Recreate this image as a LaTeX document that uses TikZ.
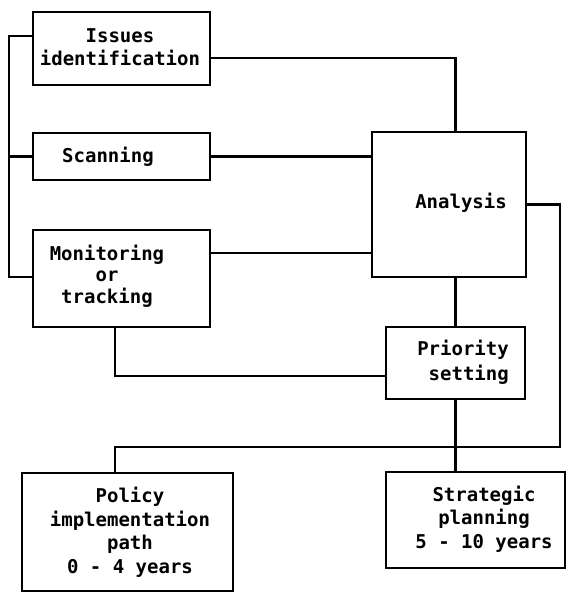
\documentclass[tikz,border=0pt]{standalone}
\usepackage{fontspec}
\newfontfamily\plotfont{DejaVu Sans Mono}
\begin{document}
\begin{tikzpicture}[x=1pt,y=-1pt,
  box/.style={draw,line width=2.4pt,inner sep=0pt,minimum width=#1},
  wire/.style={line width=2.2pt},
  lbl/.style={inner sep=0pt,align=center,font=\plotfont\bfseries\fontsize{19}{23.5}\selectfont}]
\useasboundingbox (0,0) rectangle (568,593);
% boxes
\node[box=177pt,minimum height=73pt] (issues) at (121.5,48.5) {};
\node[box=177pt,minimum height=47pt] (scanning) at (121.5,156.5) {};
\node[box=177pt,minimum height=97pt] (monitoring) at (121.5,278.5) {};
\node[box=154pt,minimum height=145pt] (analysis) at (449,204.5) {};
\node[box=139pt,minimum height=72pt] (priority) at (455.5,363) {};
\node[box=211pt,minimum height=118pt] (policy) at (127.5,532) {};
\node[box=179pt,minimum height=96pt] (strategic) at (475.5,520) {};
% texts
\node[lbl] (issuesT) at (120,47) {Issues\\identification};
\node[lbl] (scanningT) at (108,157) {Scanning};
\node[lbl,font=\plotfont\bfseries\fontsize{19}{21.5}\selectfont] (monitoringT) at (107,276) {Monitoring\\or\\tracking};
\node[lbl] (analysisT) at (461,203) {Analysis};
\node[lbl,align=right,anchor=east,font=\plotfont\bfseries\fontsize{19}{25.5}\selectfont] (priorityT) at (509,362) {Priority\\setting};
\node[lbl] (policyT) at (130,532) {Policy\\implementation\\path\\0 - 4 years};
\node[lbl] (strategicT) at (484,519) {Strategic\\planning\\5 - 10 years};
% left collecting bus
\coordinate (busTop) at (9,36);
\coordinate (busBot) at (9,277);
\draw[wire] ([yshift=12.5pt]issues.west) -- (busTop) -- (busBot) -- (monitoring.west |- busBot);
\draw[wire] (scanning.west) -- (scanning.west -| busTop);
% inputs to analysis
\draw[wire] ([yshift=-9.5pt]issues.east) -| (analysis.north -| priority.north);
\draw[wire] (scanning.east) -- (scanning.east -| analysis.west);
\draw[wire] ([yshift=25.5pt]monitoring.east) -- ([yshift=25.5pt]monitoring.east -| analysis.west);
% analysis and priority setting
\draw[wire] (priority.north) -- (priority.north |- analysis.south);
\draw[wire] ([xshift=-6.5pt]monitoring.south) |- ([yshift=-13pt]priority.west);
% outputs
\coordinate (rbus) at (560,447);
\draw[wire] (analysis.east) -| (rbus) -| ([xshift=-12.5pt]policy.north);
\draw[wire] (priority.south) -- (priority.south |- strategic.north);
\end{tikzpicture}
\end{document}
